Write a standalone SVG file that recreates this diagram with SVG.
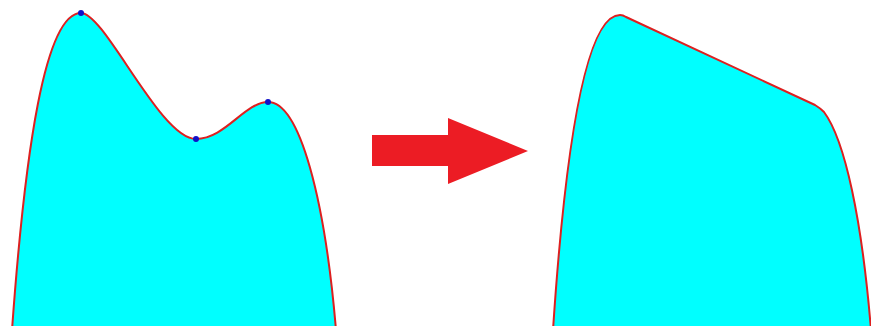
<svg xmlns="http://www.w3.org/2000/svg" width="871" height="326" viewBox="0 0 871 326">
<style>
.shape{fill:#00ffff;stroke:#dd2020;stroke-width:2;stroke-linejoin:round}
.dot{fill:#1010c8}
.arrow{fill:#ec1c24}
</style>
<rect width="871" height="326" fill="#ffffff"/>
<g id="before">
<path class="shape" d="M 12,330 C 25,150 45,13 81,13 C 105,13 160,139 196,139 C 225,139 245,102 268,102 C 300,102 325,200 336,330 Z"/>
<circle class="dot" cx="81" cy="13" r="3"/>
<circle class="dot" cx="196" cy="139" r="3"/>
<circle class="dot" cx="268" cy="102" r="3"/>
</g>
<g id="connectors">
<polygon class="arrow" points="372,135 448,135 448,118 528,151 448,184 448,166 372,166"/>
</g>
<g id="after">
<path class="shape" d="M 553,330 C 565,150 585,15 620,15 Q 623,15 626,17 L 815,105 Q 820,108 824,112 C 845,140 862,220 871,330 Z"/>
</g>
</svg>
